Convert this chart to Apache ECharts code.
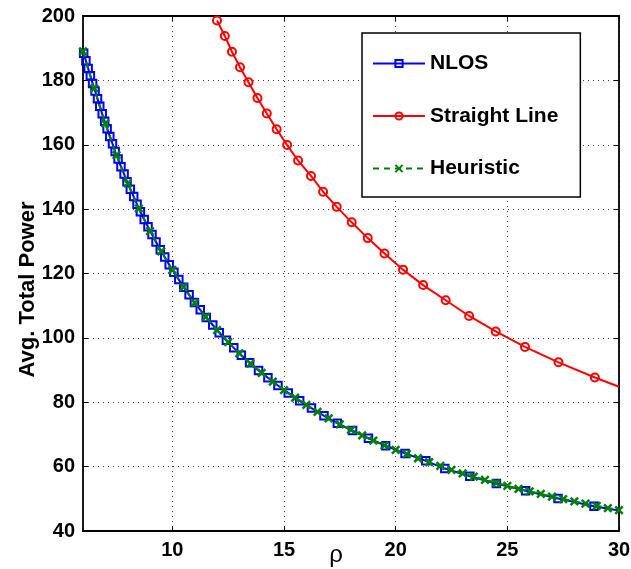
<!DOCTYPE html>
<html><head><meta charset="utf-8">
<script src="https://cdn.jsdelivr.net/npm/echarts@6/dist/echarts.min.js"></script>
<style>html,body{margin:0;padding:0;background:#fff}#c{width:631px;height:569px}</style>
</head><body><div id="c"></div>
<script>
// ---- data ----
const seriesNames = ['NLOS', 'Straight Line', 'Heuristic'];
const xTicks = [10, 15, 20, 25, 30];
const yTicks = [40, 60, 80, 100, 120, 140, 160, 180, 200];

const nlosRho = [6.03,6.13,6.23,6.33,6.43,6.54,6.65,6.75,6.86,6.97,7.08,7.20,7.32,7.44,7.57,7.70,7.84,7.97,8.12,8.27,8.42,8.57,8.74,8.91,9.09,9.27,9.46,9.66,9.86,10.07,10.29,10.51,10.75,10.99,11.25,11.52,11.81,12.10,12.42,12.75,13.09,13.46,13.86,14.28,14.73,15.19,15.70,16.23,16.79,17.39,18.07,18.78,19.55,20.42,21.35,22.2,23.32,24.51,25.82,27.27,28.88];
const nlosPower = [188.4,186.1,183.7,181.4,179.0,176.7,174.3,172.0,169.6,167.3,165.0,162.6,160.3,157.9,155.6,153.2,150.9,148.5,146.2,143.9,141.5,139.2,136.8,134.5,132.1,129.8,127.4,125.1,122.7,120.4,118.1,115.7,113.4,111.0,108.7,106.3,104.0,101.6,99.3,96.9,94.6,92.3,89.9,87.6,85.2,82.9,80.5,78.2,75.8,73.5,71.2,68.8,66.5,64.1,61.8,59.4,57.0,54.75,52.5,50.1,47.7];
const nlosEnd = [30, 46.4];

const straightRho = [12.00,12.35,12.67,13.03,13.41,13.81,14.23,14.67,15.14,15.63,16.21,16.75,17.36,18.03,18.75,19.50,20.33,21.23,22.24,23.29,24.48,25.79,27.29,28.92];
const straightPower = [198.6,193.8,188.9,184.1,179.4,174.5,169.7,164.8,159.9,155.1,150.3,145.4,140.7,135.9,131.0,126.2,121.2,116.4,111.7,106.8,102.0,97.2,92.4,87.7];
const straightEnd = [30, 84.8];

const heurRho = [6,6.5,7,7.5,8,8.5,9,9.5,10,10.5,11,11.5,12,12.5,13,13.5,14,14.5,15,15.5,16,16.5,17,17.5,18,18.5,19,19.5,20,20.5,21,21.5,22,22.5,23,23.5,24,24.5,25,25.5,26,26.5,27,27.5,28,28.5,29,29.5,30];
const heurPower = [189.0,177.5,166.6,156.8,148.0,140.2,133.2,126.9,121.1,115.8,110.9,106.5,102.4,98.7,95.2,92.0,89.1,86.4,83.8,81.4,79.2,77.0,75.0,73.1,71.4,69.7,68.1,66.6,65.2,63.9,62.6,61.4,60.2,59.0,57.9,56.9,55.9,54.9,54.0,53.1,52.3,51.5,50.7,49.9,49.2,48.5,47.8,47.1,46.5];

// ---- chart ----
const FONT = "'Liberation Sans', Arial, Helvetica, sans-serif";
const pairs = (xs, ys) => xs.map((x, i) => [x, ys[i]]);
const endItem = p => ({ value: p, symbol: 'none' });

const axisLineStyle = { color: '#000', width: 1.8 };
const tickStyle = { color: '#000', width: 1 };
const labelStyle = { fontFamily: FONT, fontWeight: 'bold', fontSize: 20, color: '#000' };
const gridLineStyle = { type: [1, 4], color: '#444', width: 1 };

const chart = echarts.init(document.getElementById('c'), null, { renderer: 'canvas' });
chart.setOption({
  animation: false,
  backgroundColor: '#fff',
  grid: { left: 83, right: 12, top: 16, bottom: 38, containLabel: false, outerBoundsMode: 'none' },
  legend: {
    show: true, orient: 'vertical', left: 362, top: 33,
    padding: [20, 22, 18, 10], itemGap: 31.5, itemWidth: 52, itemHeight: 9,
    borderColor: '#000', borderWidth: 1.5, backgroundColor: '#fff',
    textStyle: { fontFamily: FONT, fontWeight: 'bold', fontSize: 21, color: '#000', lineHeight: 21 },
    data: seriesNames
  },
  xAxis: [
    {
      type: 'value', min: 6, max: 30, position: 'bottom',
      name: 'ρ', nameLocation: 'middle', nameGap: 12, nameMoveOverlap: false,
      nameTextStyle: { fontFamily: FONT, fontSize: 24, color: '#000', padding: [0, 30, 0, 0] },
      axisLine: { show: true, onZero: false, lineStyle: axisLineStyle },
      axisTick: { show: true, inside: true, length: 5, customValues: xTicks, lineStyle: tickStyle },
      axisLabel: Object.assign({ customValues: xTicks, margin: 9, showMaxLabel: true, showMinLabel: true, hideOverlap: false }, labelStyle),
      splitLine: { show: true, lineStyle: gridLineStyle }
    },
    {
      type: 'value', min: 6, max: 30, position: 'top',
      axisLine: { show: true, onZero: false, lineStyle: axisLineStyle },
      axisTick: { show: true, inside: true, length: 5, customValues: xTicks, lineStyle: tickStyle },
      axisLabel: { show: false },
      splitLine: { show: false }
    }
  ],
  yAxis: [
    {
      type: 'value', min: 40, max: 200, interval: 20, position: 'left',
      name: 'Avg. Total Power', nameLocation: 'middle', nameGap: 44, nameRotate: 90, nameMoveOverlap: false,
      nameTextStyle: { fontFamily: FONT, fontWeight: 'bold', fontSize: 22, color: '#000', padding: [0, 32, 0, 0] },
      axisLine: { show: true, onZero: false, lineStyle: axisLineStyle },
      axisTick: { show: true, inside: true, length: 5, lineStyle: tickStyle },
      axisLabel: Object.assign({ margin: 8, showMaxLabel: true, showMinLabel: true }, labelStyle),
      splitLine: { show: true, lineStyle: gridLineStyle }
    },
    {
      type: 'value', min: 40, max: 200, interval: 20, position: 'right',
      axisLine: { show: true, onZero: false, lineStyle: axisLineStyle },
      axisTick: { show: true, inside: true, length: 5, lineStyle: tickStyle },
      axisLabel: { show: false },
      splitLine: { show: false }
    }
  ],
  series: [
    {
      name: 'NLOS', type: 'line', xAxisIndex: 0, yAxisIndex: 0,
      data: pairs(nlosRho, nlosPower).concat([endItem(nlosEnd)]),
      symbol: 'rect', symbolSize: 7.5, showAllSymbol: true,
      lineStyle: { color: '#0000ff', width: 2 },
      itemStyle: { color: 'rgba(255,255,255,0)', borderColor: '#0000ff', borderWidth: 2 },
      clip: true, z: 2
    },
    {
      name: 'Straight Line', type: 'line', xAxisIndex: 0, yAxisIndex: 0,
      data: pairs(straightRho, straightPower).concat([endItem(straightEnd)]),
      symbol: 'circle', symbolSize: 8, showAllSymbol: true,
      lineStyle: { color: '#ff0000', width: 2 },
      itemStyle: { color: 'rgba(255,255,255,0)', borderColor: '#ff0000', borderWidth: 2 },
      clip: true, z: 3
    },
    {
      name: 'Heuristic', type: 'line', xAxisIndex: 0, yAxisIndex: 0,
      data: pairs(heurRho, heurPower),
      symbol: 'path://M0,0L10,10M10,0L0,10', symbolSize: 7.5, showAllSymbol: true,
      lineStyle: { color: '#008000', width: 2.2, type: [6, 5] },
      itemStyle: { color: '#008000', borderColor: '#008000', borderWidth: 2.5 },
      clip: true, z: 4
    }
  ]
});
</script>
</body></html>
